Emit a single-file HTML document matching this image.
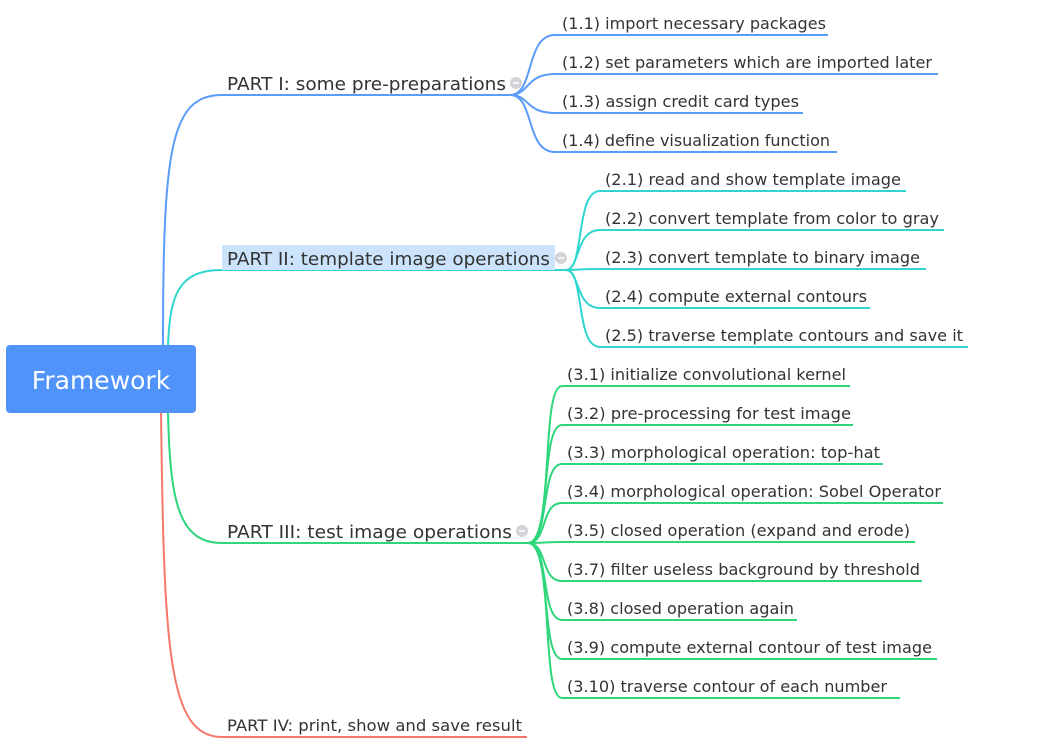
<!DOCTYPE html>
<html><head><meta charset="utf-8"><style>
html,body{margin:0;padding:0;background:#fff;}
svg{display:block;}
text{font-family:"DejaVu Sans","Liberation Sans",sans-serif;fill:#333;}
.c{font-size:16px;}
.p{font-size:18px;}
</style></head><body>
<svg width="1040" height="753" viewBox="0 0 1040 753" xmlns="http://www.w3.org/2000/svg" fill="none">
<path d="M163,346 C163,150 170,95 222,95 H510" stroke="#5b9cf8" stroke-width="2"/>
<path d="M168,346 C170,295 178,270 222,270 H568" stroke="#2fd6d0" stroke-width="2"/>
<path d="M168,412 C170,500 178,543 222,543 H530" stroke="#2dd67a" stroke-width="2"/>
<path d="M161,412 C164,650 168,737 222,737 H527" stroke="#f7786b" stroke-width="2"/>
<rect x="222" y="245" width="333" height="25" fill="#cce4fb"/>
<g stroke="#5b9cf8" stroke-width="2">
<path d="M510,95 C535,95 525,35 555,35 H828"/>
<path d="M510,95 C530,95 525,74 555,74 H938"/>
<path d="M510,95 C530,95 525,113 555,113 H803"/>
<path d="M510,95 C535,95 525,152 555,152 H837"/>
</g>
<g stroke="#2fd6d0" stroke-width="2">
<path d="M566,270 C585,270 575,191 600,191 H906"/>
<path d="M566,270 C580,270 575,230 600,230 H944"/>
<path d="M566,270 C578,270 578,269 600,269 H926"/>
<path d="M566,270 C580,270 575,308 600,308 H870"/>
<path d="M566,270 C585,270 575,347 600,347 H968"/>
</g>
<g stroke="#2dd67a" stroke-width="2">
<path d="M528,543 C555,543 540,386 562,386 H850"/>
<path d="M528,543 C552,543 540,425 562,425 H853"/>
<path d="M528,543 C550,543 540,464 562,464 H883"/>
<path d="M528,543 C548,543 540,503 562,503 H943"/>
<path d="M528,543 C545,543 545,542 562,542 H915"/>
<path d="M528,543 C548,543 540,581 562,581 H922"/>
<path d="M528,543 C550,543 540,620 562,620 H797"/>
<path d="M528,543 C552,543 540,659 562,659 H937"/>
<path d="M528,543 C555,543 540,698 562,698 H900"/>
</g>
<g fill="#d4d4d8"><circle cx="516" cy="83" r="6"/><circle cx="561" cy="258" r="6"/><circle cx="522" cy="531" r="6"/></g>
<g stroke="#fff" stroke-width="1.6"><path d="M513,83 H519"/><path d="M558,258 H564"/><path d="M519,531 H525"/></g>
<rect x="6" y="345" width="190" height="68" rx="4" fill="#4f93fb"/>
<text x="101" y="389" text-anchor="middle" style="font-size:25px;fill:#fff">Framework</text>
<text class="p" x="227" y="90" textLength="279" lengthAdjust="spacingAndGlyphs">PART I: some pre-preparations</text>
<text class="p" x="227" y="265" textLength="323" lengthAdjust="spacingAndGlyphs">PART II: template image operations</text>
<text class="p" x="227" y="538" textLength="285" lengthAdjust="spacingAndGlyphs">PART III: test image operations</text>
<text class="c" x="227" y="731" textLength="295" lengthAdjust="spacingAndGlyphs">PART IV: print, show and save result</text>
<text class="c" x="562" y="29" textLength="264" lengthAdjust="spacingAndGlyphs">(1.1) import necessary packages</text>
<text class="c" x="562" y="68" textLength="370" lengthAdjust="spacingAndGlyphs">(1.2) set parameters which are imported later</text>
<text class="c" x="562" y="107" textLength="237" lengthAdjust="spacingAndGlyphs">(1.3) assign credit card types</text>
<text class="c" x="562" y="146" textLength="268" lengthAdjust="spacingAndGlyphs">(1.4) define visualization function</text>
<text class="c" x="605" y="185" textLength="296" lengthAdjust="spacingAndGlyphs">(2.1) read and show template image</text>
<text class="c" x="605" y="224" textLength="334" lengthAdjust="spacingAndGlyphs">(2.2) convert template from color to gray</text>
<text class="c" x="605" y="263" textLength="315" lengthAdjust="spacingAndGlyphs">(2.3) convert template to binary image</text>
<text class="c" x="605" y="302" textLength="262" lengthAdjust="spacingAndGlyphs">(2.4) compute external contours</text>
<text class="c" x="605" y="341" textLength="358" lengthAdjust="spacingAndGlyphs">(2.5) traverse template contours and save it</text>
<text class="c" x="567" y="380" textLength="279" lengthAdjust="spacingAndGlyphs">(3.1) initialize convolutional kernel</text>
<text class="c" x="567" y="419" textLength="284" lengthAdjust="spacingAndGlyphs">(3.2) pre-processing for test image</text>
<text class="c" x="567" y="458" textLength="313" lengthAdjust="spacingAndGlyphs">(3.3) morphological operation: top-hat</text>
<text class="c" x="567" y="497" textLength="374" lengthAdjust="spacingAndGlyphs">(3.4) morphological operation: Sobel Operator</text>
<text class="c" x="567" y="536" textLength="343" lengthAdjust="spacingAndGlyphs">(3.5) closed operation (expand and erode)</text>
<text class="c" x="567" y="575" textLength="353" lengthAdjust="spacingAndGlyphs">(3.7) filter useless background by threshold</text>
<text class="c" x="567" y="614" textLength="227" lengthAdjust="spacingAndGlyphs">(3.8) closed operation again</text>
<text class="c" x="567" y="653" textLength="365" lengthAdjust="spacingAndGlyphs">(3.9) compute external contour of test image</text>
<text class="c" x="567" y="692" textLength="320" lengthAdjust="spacingAndGlyphs">(3.10) traverse contour of each number</text>
</svg>
</body></html>
